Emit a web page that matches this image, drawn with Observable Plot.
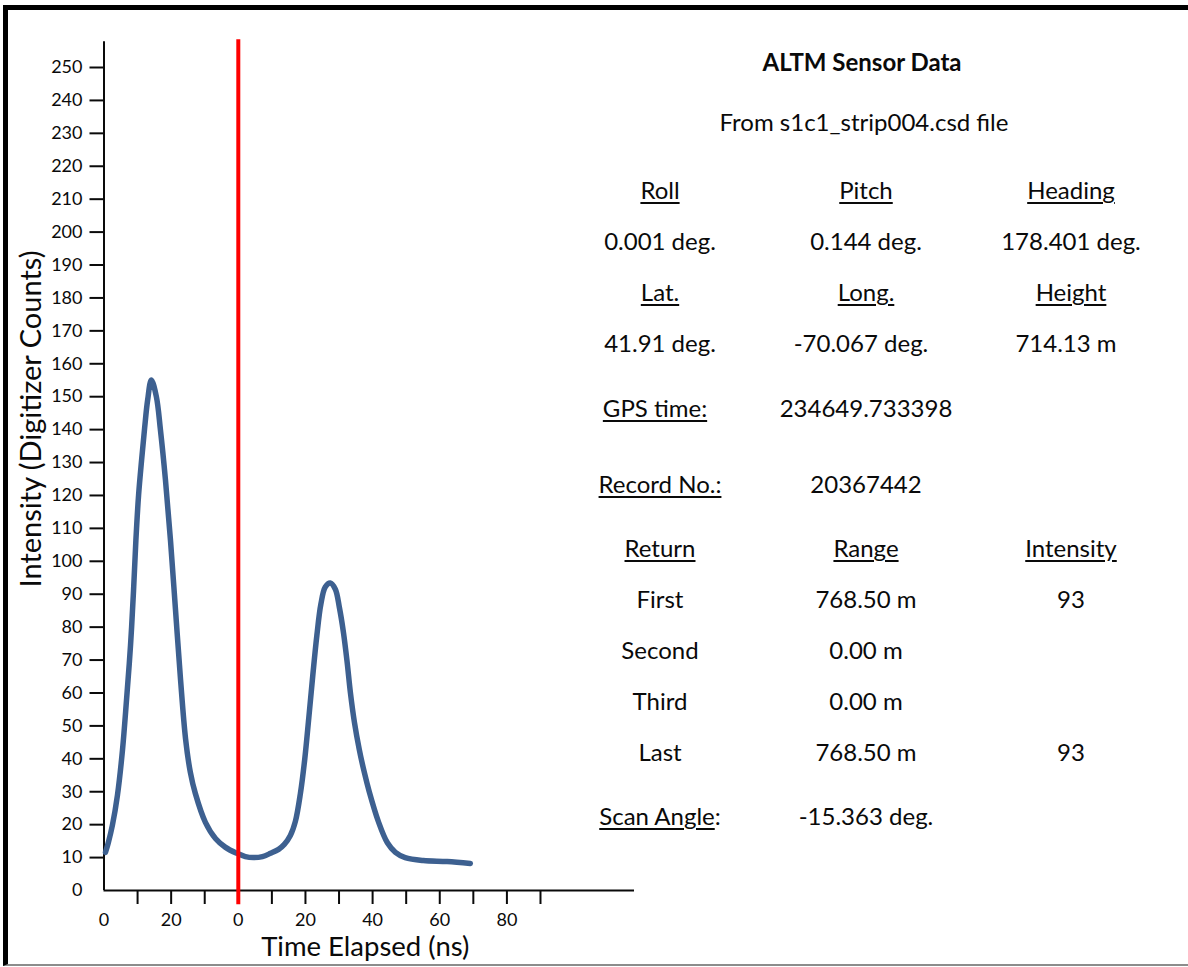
<!DOCTYPE html>
<html>
<head>
<meta charset="utf-8">
<script src="https://cdn.jsdelivr.net/npm/d3@7"></script>
<script src="https://cdn.jsdelivr.net/npm/@observablehq/plot@0.6"></script>
<style>
html, body { margin: 0; padding: 0; background: #fff; width: 1188px; height: 967px; overflow: hidden; font-family: Lato, "Open Sans", sans-serif; }
#frame { position: absolute; left: 3px; top: 5px; width: 1185px; height: 961px; box-sizing: border-box;
  border-top: 5px solid #000; border-left: 5px solid #000; border-bottom: 2px solid #8c8c8c; }
#chart { position: absolute; left: 0; top: 0; }
#panel { position: absolute; left: 0; top: 0; width: 1188px; height: 967px; }
.cell { position: absolute; transform: translate(-50%, -50%); white-space: nowrap; font-size: 24px; line-height: 1; color: #0a0a0a; }
.u { text-decoration: underline; text-decoration-thickness: 1.5px; text-underline-offset: 3px; }
.b { font-weight: bold; font-size: 24px; }
</style>
</head>
<body>
<div id="frame"></div>
<div id="chart"></div>
<div id="panel"></div>
<script>
// ---- waveform data (time in ns along the concatenated axis, intensity in digitizer counts)
const timeNs    = [0.45, 1.3, 2.5, 4.0, 5.5, 6.7, 7.9, 8.8, 9.5, 10.3, 11.2, 12.1, 13.0, 14.1, 15.6, 16.8, 18.3, 19.8, 21.3, 22.8, 24.3, 25.7, 27.2, 30.2, 33.2, 36.2, 39.6, 42.1, 44.5, 47.2, 49.6, 52.0, 53.7, 55.5, 57.0, 58.5, 59.8, 61.0, 62.2, 63.4, 64.6, 65.9, 67.4, 68.9, 70.1, 71.3, 72.4, 73.4, 74.6, 76.0, 77.5, 79.0, 81.7, 84.4, 86.8, 89.7, 95.1, 102.2, 109.1];
const intensity = [11.6, 14.6, 19.8, 28.9, 42.6, 57.8, 74.5, 91.2, 106.4, 120.1, 130.8, 140.5, 149, 155.1, 150, 140, 124.8, 106.4, 85.2, 64, 46, 36, 29.5, 20.7, 15.8, 13.1, 11.3, 10.3, 10, 10.3, 11.3, 12.5, 14, 16.7, 21, 29.5, 40, 52.5, 65.5, 77.5, 87, 92.2, 93.4, 91.5, 86, 78.5, 69.5, 60, 51, 43, 36, 30, 21, 14.5, 11.6, 10, 9.1, 8.8, 8.2];
const markerTime = 40;

// ---- axis ticks and labels
const yTickValues = d3.range(10, 251, 10);
const yZeroLabel = [0];
const xTickMarks = [10, 20, 30, 50, 60, 70, 80, 90, 100, 110, 120, 130];
const xLabelValues = [0, 20, 40, 60, 80, 100, 120];
const xLabelTexts  = ["0", "20", "0", "20", "40", "60", "80"];
const xTitle = "Time Elapsed (ns)";
const yTitle = "Intensity (Digitizer Counts)";

// ---- sensor panel text
const panelTitle = "ALTM Sensor Data";
const panelSubtitle = "From s1c1_strip004.csd file";
const attitudeHeaders = ["Roll", "Pitch", "Heading"];
const attitudeValues = ["0.001 deg.", "0.144 deg.", "178.401 deg."];
const positionHeaders = ["Lat.", "Long.", "Height"];
const positionValues = ["41.91 deg.", "-70.067 deg.", "714.13 m"];
const gpsLabel = "GPS time:";
const gpsTime = "234649.733398";
const recordLabel = "Record No.:";
const recordNo = "20367442";
const returnHeaders = ["Return", "Range", "Intensity"];
const returnNames = ["First", "Second", "Third", "Last"];
const returnRanges = ["768.50 m", "0.00 m", "0.00 m", "768.50 m"];
const returnIntensity = ["93", "", "", "93"];
const scanLabel = "Scan Angle";
const scanAngle = "-15.363 deg.";

const wave = timeNs.map((t, i) => ({t, v: intensity[i]}));
const xLabels = xLabelValues.map((t, i) => ({t, label: xLabelTexts[i]}));

// layout extents (in scale units) for axis line and marker
const yAxisTop = 257.8;
const markerTop = 258.4, markerBottom = -4.3;

const chart = Plot.plot({
  width: 1188, height: 967,
  marginLeft: 103.5, marginRight: 554, marginTop: 67, marginBottom: 77,
  x: {domain: [0, 158], axis: null},
  y: {domain: [0, 250], axis: null},
  style: {fontFamily: "Lato, 'Open Sans', sans-serif", background: "transparent", color: "#0a0a0a", overflow: "visible"},
  marks: [
    Plot.axisY(yTickValues, {anchor: "left", tickSize: 14, tickPadding: 7.5, fontSize: 18, strokeWidth: 2, stroke: "#0a0a0a", label: null}),
    Plot.axisY(yZeroLabel, {anchor: "left", tickSize: 0, tickPadding: 21.5, fontSize: 18, label: null}),
    Plot.axisX(xTickMarks, {anchor: "bottom", tickSize: 14, strokeWidth: 2, stroke: "#0a0a0a", tickFormat: () => "", label: null}),
    Plot.text(xLabels, {x: "t", frameAnchor: "bottom", lineAnchor: "middle", text: "label", dy: 30, fontSize: 18, fill: "#0a0a0a"}),
    Plot.ruleX([0], {y1: 0, y2: yAxisTop, stroke: "#0a0a0a", strokeWidth: 2}),
    Plot.ruleY([0], {x1: 0, x2: 158, stroke: "#0a0a0a", strokeWidth: 2}),
    Plot.line(wave, {x: "t", y: "v", stroke: "#3d6090", strokeWidth: 5.5, curve: "catmull-rom", strokeLinecap: "round", strokeLinejoin: "round"}),
    Plot.ruleX([markerTime], {y1: markerBottom, y2: markerTop, stroke: "#ff0000", strokeWidth: 4}),
    Plot.text([xTitle], {frameAnchor: "bottom", lineAnchor: "middle", dx: -4, dy: 57, fontSize: 27.5, fill: "#0a0a0a"}),
    Plot.text([yTitle], {frameAnchor: "left", textAnchor: "middle", lineAnchor: "middle", dx: -72, dy: -60, rotate: -90, fontSize: 29, fill: "#0a0a0a"})
  ]
});
document.getElementById("chart").appendChild(chart);

// ---- panel layout
const panel = document.getElementById("panel");
const cols = [660, 866, 1071];
function cell(text, x, y, cls) {
  if (text === "") return;
  const d = document.createElement("div");
  d.className = "cell" + (cls ? " " + cls : "");
  d.style.left = x + "px";
  d.style.top = y + "px";
  if (typeof text === "string") d.textContent = text; else d.appendChild(text);
  panel.appendChild(d);
}
cell(panelTitle, 862, 62, "b");
cell(panelSubtitle, 864, 122);
attitudeHeaders.forEach((t, i) => cell(t, cols[i], 190, "u"));
attitudeValues.forEach((t, i) => cell(t, cols[i], 241));
positionHeaders.forEach((t, i) => cell(t, cols[i], 292, "u"));
positionValues.forEach((t, i) => cell(t, cols[i] - (i > 0 ? 5 : 0), 343));
cell(gpsLabel, 655, 408, "u");
cell(gpsTime, cols[1], 408);
cell(recordLabel, cols[0], 484, "u");
cell(recordNo, cols[1], 484);
returnHeaders.forEach((t, i) => cell(t, cols[i], 548, "u"));
const rowY = [599, 650, 701, 752];
returnNames.forEach((t, i) => {
  cell(t, cols[0], rowY[i]);
  cell(returnRanges[i], cols[1], rowY[i]);
  cell(returnIntensity[i], cols[2], rowY[i]);
});
const scanSpan = document.createElement("span");
const su = document.createElement("span");
su.className = "u"; su.textContent = scanLabel;
scanSpan.appendChild(su);
scanSpan.appendChild(document.createTextNode(":"));
cell(scanSpan, cols[0], 816);
cell(scanAngle, cols[1], 816);
</script>
</body>
</html>
